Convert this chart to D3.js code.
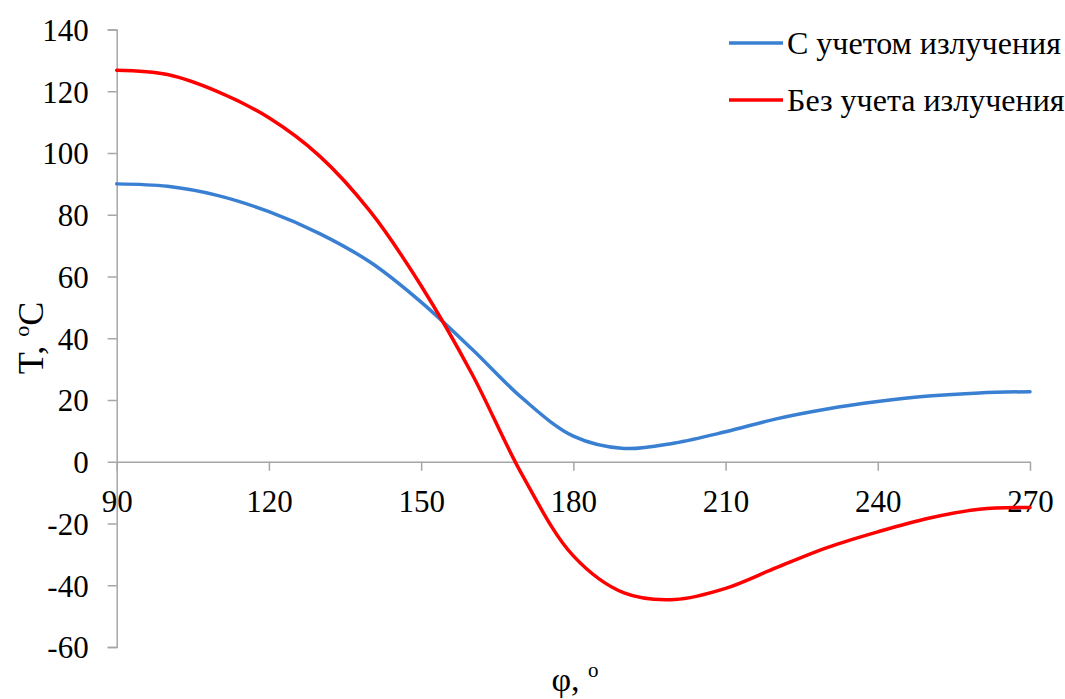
<!DOCTYPE html>
<html>
<head>
<meta charset="utf-8">
<script src="https://cdn.jsdelivr.net/npm/d3@7"></script>
<style>
body { margin: 0; background: #fff; }
svg text { font-family: "Liberation Serif", "Times New Roman", serif; fill: #000; }
</style>
</head>
<body>
<svg id="chart" width="1065" height="699"></svg>
<script>
const phi = [90,100,110,120,130,140,150,160,170,180,190,200,210,220,230,240,250,260,270];
const withRadiation = [90.0,89.2,86.2,81.0,73.9,64.6,51.7,36.5,20.5,8.3,4.3,6.1,9.7,13.9,17.1,19.5,21.3,22.3,22.7];
const withoutRadiation = [126.8,125.4,119.8,111.4,99.0,81.0,57.0,28.5,-4.5,-30.5,-42.5,-44.6,-41.0,-34.3,-27.8,-22.7,-18.3,-15.4,-14.8];
const xTicks = [90,120,150,180,210,240,270];
const yTicks = [-60,-40,-20,0,20,40,60,80,100,120,140];
const seriesNames = ["С учетом излучения", "Без учета излучения"];
const seriesColors = ["#3a80d2", "#ff0000"];

const svg = d3.select("#chart");
const x = d3.scaleLinear().domain([90, 270]).range([116.7, 1030]);
const y = d3.scaleLinear().domain([-60, 140]).range([647, 29.5]);
const axisColor = "#a6a6a6";

// Y axis
const yAxis = svg.append("g").attr("transform", `translate(${x(90)},0)`)
  .call(d3.axisLeft(y).tickValues(yTicks).tickSize(9).tickPadding(19).tickFormat(d => String(d)));
yAxis.attr("font-family", null);
yAxis.select(".domain").attr("stroke", axisColor).attr("stroke-width", 1.5);
yAxis.selectAll(".tick line").attr("stroke", axisColor).attr("stroke-width", 1.5);
yAxis.selectAll(".tick text").attr("font-size", 31).attr("fill", "#000").attr("dy", "0.35em");

// X axis at y=0
const xAxis = svg.append("g").attr("transform", `translate(0,${y(0)})`)
  .call(d3.axisBottom(x).tickValues(xTicks).tickSize(9).tickSizeOuter(0).tickPadding(19).tickFormat(d => String(d)));
xAxis.attr("font-family", null);
xAxis.select(".domain").attr("stroke", axisColor).attr("stroke-width", 1.5);
xAxis.selectAll(".tick line").attr("stroke", axisColor).attr("stroke-width", 1.5);
xAxis.selectAll(".tick text").attr("font-size", 31).attr("fill", "#000");

// Lines
const series = [withRadiation, withoutRadiation];
const line = d3.line().x((d, i) => x(phi[i])).y(d => y(d)).curve(d3.curveCatmullRom.alpha(0.5));
series.forEach((s, k) => {
  svg.append("path").datum(s).attr("fill", "none")
    .attr("stroke", seriesColors[k]).attr("stroke-width", 3.5)
    .attr("stroke-linecap", "round").attr("d", line);
});

// Legend
const legY = [43, 100];
seriesNames.forEach((n, k) => {
  svg.append("line").attr("x1", 729).attr("x2", 783).attr("y1", legY[k]).attr("y2", legY[k])
    .attr("stroke", seriesColors[k]).attr("stroke-width", 3.5);
  svg.append("text").attr("x", 787).attr("y", legY[k] + 11).attr("font-size", 32).text(n);
});

// Axis titles
const yt = svg.append("text").attr("transform", "translate(43,338) rotate(-90)")
  .attr("text-anchor", "middle").attr("font-size", 36);
yt.append("tspan").text("T, ");
yt.append("tspan").attr("font-size", 22).attr("dy", -14).text("o");
yt.append("tspan").attr("dy", 14).text("C");

const xt = svg.append("text").attr("x", 575).attr("y", 691)
  .attr("text-anchor", "middle").attr("font-size", 34);
xt.append("tspan").text("φ, ");
xt.append("tspan").attr("font-size", 21).attr("dy", -14).text("o");
</script>
</body>
</html>
